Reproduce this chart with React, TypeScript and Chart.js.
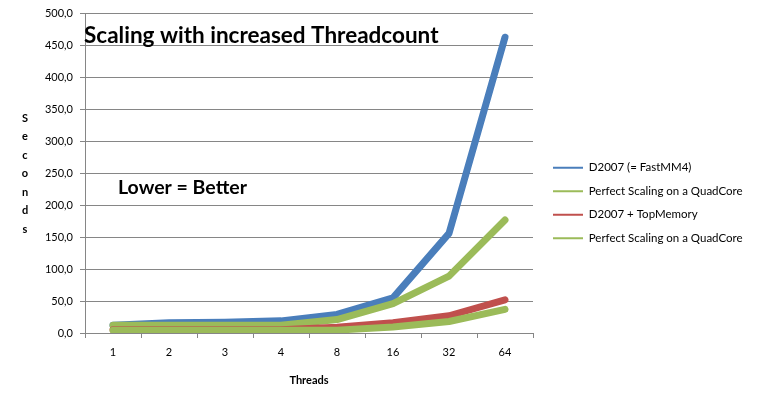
import React, { useEffect, useRef } from 'react';
import { Chart, registerables } from 'chart.js';

Chart.register(...registerables);

const categories = ['1', '2', '3', '4', '8', '16', '32', '64'];
const fastMM4 = [12, 16, 17, 19, 29, 55, 156, 463];
const perfectScaling1 = [12, 12, 12, 12, 21, 46, 89, 177];
const topMemory = [5, 5, 5, 5, 9, 16, 27, 52];
const perfectScaling2 = [4.5, 4.5, 4.5, 4.5, 4.5, 9.5, 18, 37];
const seriesNames = [
  'D2007 (= FastMM4)',
  'Perfect Scaling on a QuadCore',
  'D2007 + TopMemory',
  'Perfect Scaling on a QuadCore',
];
const chartTitle = 'Scaling with increased Threadcount';
const noteText = 'Lower = Better';
const yTitle = 'Seconds';
const xTitle = 'Threads';

const BLUE = '#4A7EBB';
const GREEN = '#9BBB59';
const RED = '#C0504D';
const GRID = '#868686';
const FONT = 'Lato';
const LEGEND_WIDTH = 228;

const overlayPlugin = {
  id: 'overlayText',
  afterDraw(chart: any) {
    const ctx = chart.ctx;
    ctx.save();
    ctx.fillStyle = '#000';
    ctx.textAlign = 'left';
    ctx.textBaseline = 'alphabetic';
    ctx.font = `bold 22.5px ${FONT}`;
    ctx.fillText(chartTitle, 84, 43);
    ctx.font = `bold 19.5px ${FONT}`;
    ctx.fillText(noteText, 118, 194);
    ctx.font = `bold 11px ${FONT}`;
    ctx.textAlign = 'center';
    ctx.textBaseline = 'middle';
    yTitle.split('').forEach((ch, i) => ctx.fillText(ch, 25, 118 + i * 18.5));
    ctx.restore();
  },
};

const legendPlacePlugin = {
  id: 'legendPlace',
  beforeLayout(chart: any) {
    const lg = chart.legend;
    if (lg && !lg._fitPatched) {
      const orig = lg.fit.bind(lg);
      lg.fit = function () {
        orig();
        this.width = LEGEND_WIDTH;
      };
      lg._fitPatched = true;
    }
  },
  afterLayout(chart: any) {
    const lg = chart.legend;
    if (lg) {
      lg.left += 8;
      lg.right += 8;
      lg.top -= 5;
      lg.bottom -= 5;
    }
  },
};

export default function App() {
  const ref = useRef<HTMLCanvasElement | null>(null);

  useEffect(() => {
    document.body.style.margin = '0';
    if (!ref.current) return;
    const mk = (label: string, data: number[], color: string, order: number) => ({
      label,
      data,
      borderColor: color,
      backgroundColor: color,
      borderWidth: 7,
      pointRadius: 0,
      pointHoverRadius: 0,
      tension: 0,
      borderCapStyle: 'round' as const,
      borderJoinStyle: 'round' as const,
      order,
    });
    const chart = new Chart(ref.current, {
      type: 'line',
      data: {
        labels: categories,
        datasets: [
          mk(seriesNames[0], fastMM4, BLUE, 4),
          mk(seriesNames[1], perfectScaling1, GREEN, 3),
          mk(seriesNames[2], topMemory, RED, 2),
          mk(seriesNames[3], perfectScaling2, GREEN, 1),
        ],
      },
      options: {
        responsive: false,
        animation: false,
        layout: { padding: { top: 12, left: 0, right: 0, bottom: 0 } },
        plugins: {
          tooltip: { enabled: false },
          legend: {
            position: 'right',
            align: 'center',
            labels: {
              boxWidth: 30,
              boxHeight: 2,
              padding: 12,
              color: '#000',
              font: { family: FONT, size: 11.5 },
              generateLabels(c: any) {
                const items = (Chart.defaults.plugins.legend.labels as any).generateLabels(c);
                return items
                  .map((it: any) => ({ ...it, lineWidth: 0, fillStyle: it.strokeStyle }))
                  .sort((a: any, b: any) => a.datasetIndex - b.datasetIndex);
              },
            },
          },
        },
        scales: {
          x: {
            type: 'category',
            offset: true,
            afterFit(scale: any) {
              scale.height = 71;
            },
            grid: {
              display: true,
              drawOnChartArea: false,
              drawTicks: true,
              tickLength: 5,
              color: GRID,
              offset: true,
            },
            border: { color: GRID },
            ticks: { color: '#000', font: { family: FONT, size: 11 }, padding: 8 },
            title: {
              display: true,
              text: xTitle,
              color: '#000',
              font: { family: FONT, size: 11, weight: 'bold' },
              padding: { top: 4, bottom: 17 },
            },
          },
          y: {
            min: 0,
            max: 500,
            afterFit(scale: any) {
              scale.width = 85;
            },
            grid: { color: GRID, tickLength: 5, drawTicks: true },
            border: { color: GRID },
            ticks: {
              stepSize: 50,
              color: '#000',
              padding: 7,
              font: { family: FONT, size: 11 },
              callback: (v: any) => Number(v).toFixed(1).replace('.', ','),
            },
          },
        },
      },
      plugins: [legendPlacePlugin, overlayPlugin],
    });
    return () => chart.destroy();
  }, []);

  return (
    <div style={{ width: 761, height: 404, background: '#fff' }}>
      <canvas ref={ref} width={761} height={404} style={{ display: 'block' }} />
    </div>
  );
}
